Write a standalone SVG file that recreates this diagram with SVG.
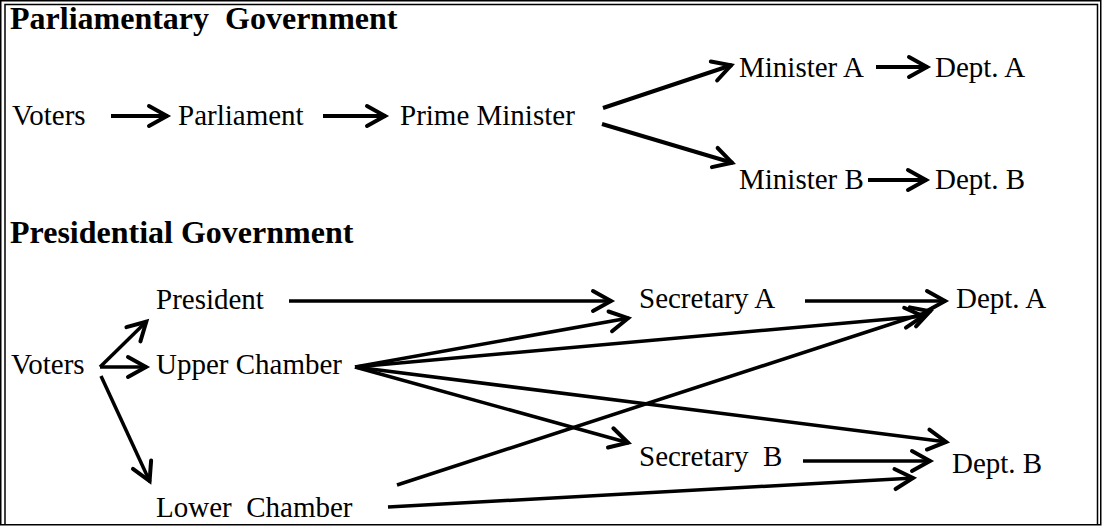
<svg xmlns="http://www.w3.org/2000/svg" width="1102" height="526" viewBox="0 0 1102 526">
  <style>
    text { font-family: "Liberation Serif", "Times New Roman", serif; font-size: 29px; fill: #000; white-space: pre; }
    .title { font-weight: bold; font-size: 32px; }
    .edge { stroke: #000; stroke-width: 4; fill: none; marker-end: url(#arrow); }
    .thin { stroke-width: 3.5; }
    .frame { stroke: #000; stroke-width: 1.5; fill: none; }
  </style>
  <defs>
    <marker id="arrow" markerUnits="userSpaceOnUse" markerWidth="30" markerHeight="30" viewBox="-24 -15 30 30" refX="1" refY="0" orient="auto" overflow="visible">
      <path d="M-18,-10 L0,0 L-18,10" fill="none" stroke="#000" stroke-width="4" stroke-linecap="round" stroke-linejoin="miter"/>
    </marker>
  </defs>

  <rect width="1102" height="526" fill="#fff"/>

  <!-- double frame -->
  <rect class="frame" x="0.75" y="0.75" width="1100" height="524"/>
  <path class="frame" d="M5,525 V4.5 H1097.5 V525"/>

  <!-- section headings -->
  <text class="title" x="10" y="29">Parliamentary  Government</text>
  <text class="title" x="10" y="243">Presidential Government</text>

  <!-- parliamentary nodes -->
  <g id="p-voters"><text x="12" y="125">Voters</text></g>
  <g id="p-parliament"><text x="178" y="125">Parliament</text></g>
  <g id="p-prime-minister"><text x="400" y="125">Prime Minister</text></g>
  <g id="p-minister-a"><text x="739" y="77">Minister A</text></g>
  <g id="p-dept-a"><text x="935" y="77">Dept. A</text></g>
  <g id="p-minister-b"><text x="739" y="189">Minister B</text></g>
  <g id="p-dept-b"><text x="935" y="189">Dept. B</text></g>

  <!-- presidential nodes -->
  <g id="s-voters"><text x="11" y="374">Voters</text></g>
  <g id="s-president"><text x="156" y="309">President</text></g>
  <g id="s-upper-chamber"><text x="156" y="374">Upper Chamber</text></g>
  <g id="s-lower-chamber"><text x="156" y="517">Lower  Chamber</text></g>
  <g id="s-secretary-a"><text x="639" y="308">Secretary A</text></g>
  <g id="s-dept-a"><text x="956" y="308">Dept. A</text></g>
  <g id="s-secretary-b"><text x="639" y="466">Secretary  B</text></g>
  <g id="s-dept-b"><text x="952" y="473">Dept. B</text></g>

  <!-- connectors -->
  <g id="connectors">
    <!-- parliamentary chain -->
    <line class="edge" x1="111" y1="116" x2="168" y2="116"/>
    <line class="edge" x1="323" y1="116" x2="386" y2="116"/>
    <line class="edge" x1="603" y1="108" x2="732" y2="65"/>
    <line class="edge" x1="602" y1="124" x2="733" y2="163"/>
    <line class="edge" x1="876" y1="67" x2="928" y2="67"/>
    <line class="edge" x1="868" y1="180" x2="927" y2="180"/>

    <!-- voters to the three branches -->
    <line class="edge thin" x1="100" y1="367" x2="147" y2="321"/>
    <line class="edge thin" x1="100" y1="367" x2="147" y2="367"/>
    <line class="edge thin" x1="101" y1="376" x2="150" y2="482"/>

    <!-- president and secretaries -->
    <line class="edge thin" x1="289" y1="301" x2="612" y2="301"/>
    <line class="edge thin" x1="805" y1="301" x2="946" y2="301"/>
    <line class="edge thin" x1="803" y1="461" x2="931" y2="461"/>

    <!-- upper chamber fan -->
    <line class="edge thin" x1="355" y1="367" x2="629" y2="318"/>
    <line class="edge thin" x1="355" y1="367" x2="924" y2="316"/>
    <line class="edge thin" x1="355" y1="367" x2="629" y2="443"/>
    <line class="edge thin" x1="355" y1="367" x2="947" y2="442"/>

    <!-- lower chamber -->
    <line class="edge thin" x1="397" y1="485" x2="931" y2="311"/>
    <line class="edge thin" x1="388" y1="507" x2="914" y2="478"/>
  </g>
</svg>
